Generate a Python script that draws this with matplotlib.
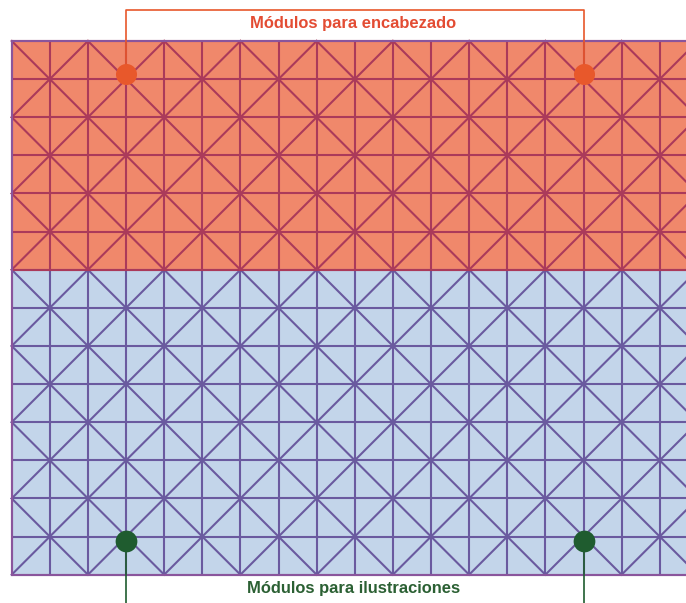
import matplotlib
matplotlib.use("Agg")
import matplotlib.pyplot as plt
from matplotlib.patches import Rectangle

# Grid layout (in module units)
n_cols = 18
header_rows = 6
body_rows = 8
n_rows = header_rows + body_rows

# Callout markers (column, row) and labels
header_marks_x = [3, 15]
header_marks_y = [0.86, 0.86]
body_marks_x = [3, 15]
body_marks_y = [13.11, 13.11]
header_label = "Módulos para encabezado"
body_label = "Módulos para ilustraciones"

# Colours
header_fill = "#f0886b"
header_line = "#ab3a5a"
body_fill = "#c3d5ea"
body_line = "#6a5a9f"
border_col = "#8a559c"
orange = "#e8582b"
orange_txt = "#e34c33"
green = "#1f5c2f"
green_txt = "#2b6033"

plt.rcParams["font.family"] = ["Liberation Sans", "DejaVu Sans"]

fig = plt.figure(figsize=(6.86, 6.03), dpi=100)
ax = fig.add_axes([0, 0, 1, 1])
unit = 38.12
x0, y0 = 11.7, 41.0
ax.set_xlim(-x0 / unit, (686 - x0) / unit)
ax.set_ylim((603 - y0) / unit, -y0 / unit)
ax.axis("off")

lw = 1.5


def draw_region(r0, r1, fill, line):
    ax.add_patch(Rectangle((0, r0), n_cols, r1 - r0, facecolor=fill, edgecolor="none", zorder=1))
    # horizontal lines
    for r in range(r0, r1 + 1):
        ax.plot([0, n_cols], [r, r], color=line, lw=lw, zorder=2, solid_capstyle="butt")
    # vertical lines
    for c in range(0, n_cols + 1):
        ax.plot([c, c], [r0, r1], color=line, lw=lw, zorder=2, solid_capstyle="butt")
    # diagonals: an X in every 2x2 block
    for c in range(0, n_cols, 2):
        for r in range(r0, r1, 2):
            ax.plot([c, c + 2], [r, r + 2], color=line, lw=lw, zorder=2)
            ax.plot([c + 2, c], [r, r + 2], color=line, lw=lw, zorder=2)


draw_region(header_rows, n_rows, body_fill, body_line)
draw_region(0, header_rows, header_fill, header_line)

# outer border
ax.plot([0, n_cols], [0, 0], color=border_col, lw=lw, zorder=3)
ax.plot([0, n_cols], [n_rows, n_rows], color=border_col, lw=lw, zorder=3)
ax.plot([0, 0], [0, n_rows], color=border_col, lw=lw, zorder=3)

# header callout
top_y = (10 - y0) / unit
ax.plot([header_marks_x[0], header_marks_x[0], header_marks_x[1], header_marks_x[1]],
        [header_marks_y[0], top_y, top_y, header_marks_y[1]],
        color=orange, lw=1.2, zorder=4)
ax.scatter(header_marks_x, header_marks_y, s=230, color=orange, zorder=5, linewidths=0)
ax.text(sum(header_marks_x) / 2 - 0.05, (23.5 - y0) / unit, header_label, color=orange_txt,
        fontsize=11.9, fontweight="bold", ha="center", va="center", zorder=6)

# body callout
bot_y = (603 - y0) / unit
for bx, by in zip(body_marks_x, body_marks_y):
    ax.plot([bx, bx], [by, bot_y], color=green, lw=1.2, zorder=4)
ax.scatter(body_marks_x, body_marks_y, s=245, color=green, zorder=5, linewidths=0)
ax.text(sum(body_marks_x) / 2 - 0.02, (589 - y0) / unit, body_label, color=green_txt,
        fontsize=11.9, fontweight="bold", ha="center", va="center", zorder=6)

fig.savefig("out.png", dpi=100, facecolor="white")
